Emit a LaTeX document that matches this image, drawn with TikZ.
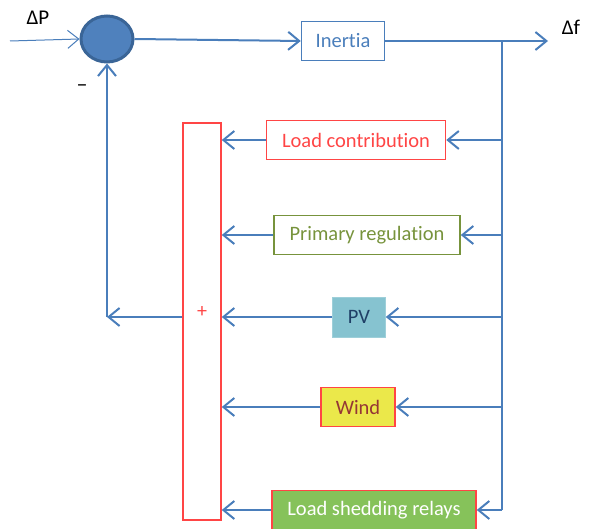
\documentclass[tikz,border=0pt]{standalone}
\usepackage{fontspec}
\setmainfont{Carlito}[Ligatures={NoCommon}]
\usepackage{xcolor}
\usetikzlibrary{arrows.meta, positioning, shapes.geometric}

\definecolor{flowblue}{HTML}{4A7EBB}
\definecolor{sumfill}{HTML}{4F81BD}
\definecolor{sumedge}{HTML}{3A6597}
\definecolor{redline}{HTML}{FF4545}
\definecolor{olive}{HTML}{77933C}
\definecolor{pvfill}{HTML}{86C3D0}
\definecolor{pvtext}{HTML}{1F3F66}
\definecolor{windfill}{HTML}{EBE84A}
\definecolor{windtext}{HTML}{953735}
\definecolor{shedfill}{HTML}{86C25A}

\begin{document}
\begin{tikzpicture}[
x=1pt, y=-1pt,
box/.style={
draw,
line width=1.5pt,
minimum height=39pt,
inner sep=0pt,
font=\fontsize{20.5}{24}\selectfont
},
flow/.style={flowblue, line width=2pt},
>={Straight Barb[length=11pt,width=18pt]}
]
\useasboundingbox (0,0) rectangle (591,529);

\node[ellipse, draw=sumedge, line width=3pt, fill=sumfill,
minimum width=52pt, minimum height=46pt] (sum) at (107,39) {};

\node[box, draw=flowblue, text=flowblue, minimum width=83pt] (inertia)
at (343,41) {Inertia};

\node[box, draw=redline, text=redline, minimum width=179pt] (loadc)
at (356,140) {Load contribution};

\node[box, draw=olive, text=olive, minimum width=186pt] (primary)
at (367,235) {Primary regulation};

\node[box, draw=pvfill!80!white, fill=pvfill, text=pvtext, line width=0.6pt,
minimum width=53pt, minimum height=40pt] (pv) at (359,317) {PV};

\node[box, draw=redline, fill=windfill, text=windtext, minimum width=74pt]
(wind) at (358,407) {Wind};

\node[box, draw=redline, fill=shedfill, text=white, minimum width=204pt]
(shed) at (374,510) {Load shedding relays};

\node[draw=redline, line width=1.5pt, minimum width=38pt,
minimum height=397pt, inner sep=0pt] (adder) at (202,321.5) {};
\node[text=redline, font=\fontsize{20}{22}\selectfont] (plus)
at (202,312) {+};

\node[font=\fontsize{21}{24}\selectfont] (dp) at (38,18) {ΔP};
\node[font=\fontsize{21}{24}\selectfont] (df) at (571,27) {Δf};
\node[font=\fontsize{22}{24}\selectfont] (minus) at (82,88) {–};

\coordinate (inp) at (10,41);
\coordinate (outp) at (548,41);
\coordinate (bus) at (502,41);
\coordinate (busend) at (502,510);
\coordinate (corner) at (107,317);

% forward path
\draw[->, flowblue, line width=1pt] (inp) -- (sum.west);
\draw[->, flow] (sum.east) -- (inertia.west);
\draw[->, flow] (inertia.east) -- (outp);
\draw[flow] (bus) -- (busend);

% feedback branches
\draw[->, flow] (bus |- loadc) -- (loadc.east);
\draw[->, flow] (bus |- primary) -- (primary.east);
\draw[->, flow] (bus |- pv) -- (pv.east);
\draw[->, flow] (bus |- wind) -- (wind.east);
\draw[->, flow] (busend) -- (shed.east);

\draw[->, flow] (loadc.west) -- (adder.east |- loadc);
\draw[->, flow] (primary.west) -- (adder.east |- primary);
\draw[->, flow] (pv.west) -- (adder.east |- pv);
\draw[->, flow] (wind.west) -- (adder.east |- wind);
\draw[->, flow] (shed.west) -- (adder.east |- shed);

% back to the summing point
\draw[->, flow] (adder.west |- corner) -- (corner);
\draw[->, flow] (corner) -- (sum.south);

\end{tikzpicture}
\end{document}
